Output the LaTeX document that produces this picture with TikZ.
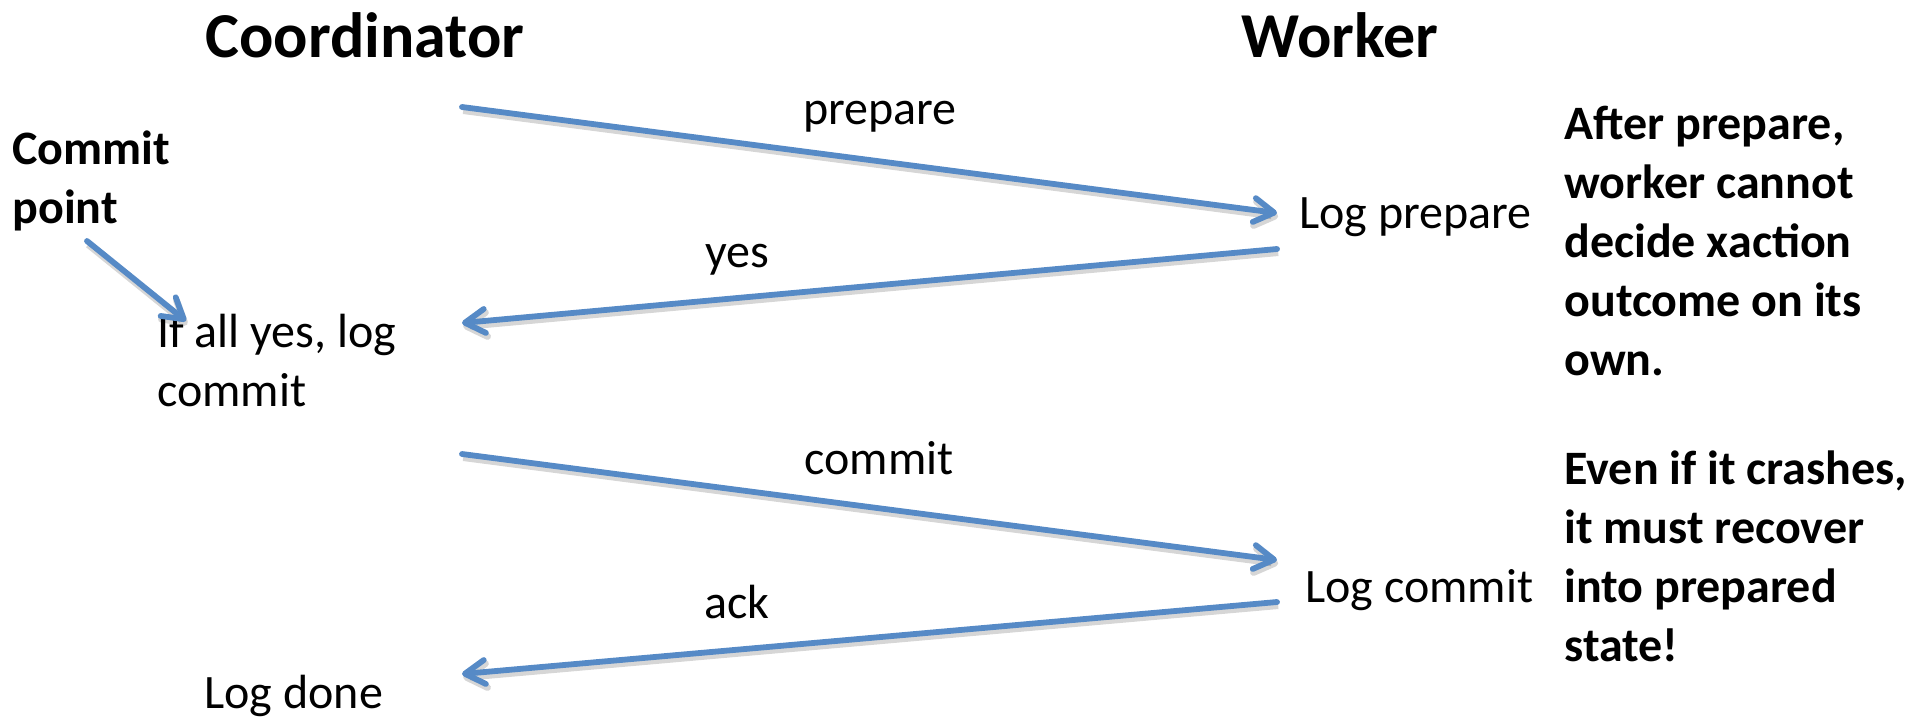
\documentclass[tikz,border=0pt]{standalone}
\usepackage{fontspec}
\setmainfont{Carlito}
\usetikzlibrary{arrows.meta}
\definecolor{msgblue}{RGB}{86,138,198}
\tikzset{
  title/.style={font=\fontsize{32}{38}\selectfont\bfseries, inner sep=0pt, anchor=base},
  body/.style={font=\fontsize{24}{29.5}\selectfont, inner sep=0pt, align=left},
  note/.style={font=\fontsize{24}{29.5}\selectfont\bfseries, inner sep=0pt, align=left},
  msg/.style={draw=msgblue, line width=2.9pt, line cap=round, line join=round,
    -{Straight Barb[length=10pt,width=12pt,line cap=round,line join=round]},
    preaction={draw=black, draw opacity=0.16, line width=3.4pt,
      transform canvas={xshift=0.6pt,yshift=-1.8pt}}},
}
\begin{document}
\begin{tikzpicture}[x=0.5pt,y=-0.5pt]
\useasboundingbox (0,0) rectangle (1931,720);

% column headings
\node[title] (coord) at (365,57) {Coordinator};
\node[title] (work) at (1340,57) {Worker};

% coordinator side (multi-line nodes are placed by the baseline of their last line)
\node[note, anchor=base west] (cpoint) at (12,223) {Commit\\point};
\node[body, anchor=base west] (allyes) at (157,406) {If all yes, log\\commit};
\node[body, anchor=base west] (done) at (204,708) {Log done};

% worker side
\node[body, anchor=base west] (logprep) at (1299,228) {Log prepare};
\node[body, anchor=base west] (logcommit) at (1305,602) {Log commit};

% remarks on the worker
\node[note, anchor=base west] (remark1) at (1564,375)
  {After prepare,\\worker cannot\\decide xaction\\outcome on its\\own.};
\node[note, anchor=base west] (remark2) at (1564,661)
  {Even if it crashes,\\it must recover\\into prepared\\state!};

% message labels
\node[body, anchor=base] (lprep) at (880,124) {prepare};
\node[body, anchor=base] (lyes) at (737,267) {yes};
\node[body, anchor=base] (lcommit) at (879,474) {commit};
\node[body, anchor=base] (lack) at (737,618) {ack};

% message end points
\coordinate (prepS) at (462,107);
\coordinate (prepE) at (1277,213);
\coordinate (yesS) at (1277,249);
\coordinate (yesE) at (462,323);
\coordinate (comS) at (462,454);
\coordinate (comE) at (1277,560);
\coordinate (ackS) at (1277,602);
\coordinate (ackE) at (462,674);
\coordinate (cpS) at (87,241);
\coordinate (cpE) at (186,321);

% messages
\draw[msg] (prepS) -- (prepE);
\draw[msg] (yesS) -- (yesE);
\draw[msg] (comS) -- (comE);
\draw[msg] (ackS) -- (ackE);
\draw[msg] (cpS) -- (cpE);
\end{tikzpicture}
\end{document}
